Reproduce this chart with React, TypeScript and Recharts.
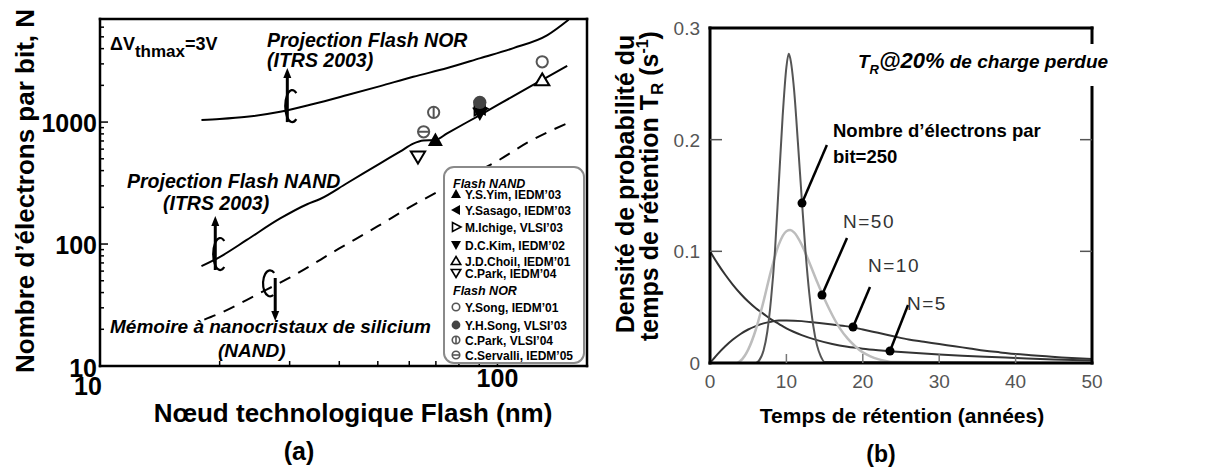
import React from 'react';
import {
  ComposedChart,
  LineChart,
  Line,
  Scatter,
  XAxis,
  YAxis,
  ReferenceLine,
  ReferenceDot,
  Legend,
} from 'recharts';

const FONT = '"Liberation Sans", Arial, Helvetica, sans-serif';

// ---------------- Panel (a) : electrons per bit vs Flash node ----------------
const norNodes = [18.0, 20.0, 23.4, 28.4, 34.4, 41.9, 50.7, 61.4, 74.8, 90.6, 109.7, 133.6, 151];
const norElectrons = [1040, 1060, 1105, 1214, 1405, 1665, 1972, 2351, 2772, 3346, 4043, 5164, 6900];

const nandNodes = [18, 20.1, 23.4, 28.4, 33.2, 35.8, 41.8, 50.7, 57, 61.4, 65.1, 69.8, 74.7, 90.6, 109.9, 133.4, 149.8];
const nandElectrons = [66, 79, 108, 162, 212, 234, 315, 459, 575, 665, 705, 712, 808, 1148, 1640, 2338, 2894];

const ncNodes = [18.3, 20, 25, 30, 40, 50, 60, 80, 100, 120, 150];
const ncElectrons = [24, 27, 39, 53, 92, 140, 200, 330, 480, 690, 980];

const pointLabels = [
  'Y.S.Yim, IEDM\u201903',
  'Y.Sasago, IEDM\u201903',
  'M.Ichige, VLSI\u201903',
  'D.C.Kim, IEDM\u201902',
  'J.D.Choil, IEDM\u201901',
  'C.Park, IEDM\u201904',
  'Y.Song, IEDM\u201901',
  'Y.H.Song, VLSI\u201903',
  'C.Park, VLSI\u201904',
  'C.Servalli, IEDM\u201905',
];
const pointSymbols = ['triUp', 'triLeft', 'triRightOpen', 'triDown', 'triUpOpen', 'triDownOpen', 'circleOpen', 'circleFilled', 'circleV', 'circleH'];
const pointNodes = [69.8, 90.3, 90.3, 90.3, 129.6, 63.1, 129.6, 90.3, 69.1, 65.2];
const pointElectrons = [712, 1290, 1290, 1178, 2208, 520, 3120, 1451, 1201, 833];

const xTicksA = [10, 20, 30, 40, 50, 60, 70, 80, 90, 100];
const yTicksA = [10, 20, 30, 40, 50, 60, 70, 80, 90, 100, 200, 300, 400, 500, 600, 700, 800, 900, 1000, 2000, 3000, 4000, 5000, 6000];
const xMajorA = [10, 100];
const yMajorA = [10, 100, 1000];

// ---------------- Panel (b) : retention time density ----------------
const n250Years = [0, 6, 6.5, 7, 7.5, 8, 8.5, 9, 9.5, 10, 10.3, 10.5, 11, 11.5, 12, 12.5, 13, 13.5, 14, 14.5, 15, 50];
const n250Density = [0, 0, 0.003, 0.011, 0.028, 0.058, 0.1, 0.16, 0.22, 0.265, 0.277, 0.273, 0.245, 0.198, 0.148, 0.1, 0.062, 0.034, 0.016, 0.006, 0.001, 0];

const n50Years = [0, 3.5, 4, 5, 6, 7, 8, 9, 10, 10.5, 11, 12, 13, 14, 15, 16, 17, 18, 19, 20, 21, 22, 23, 24, 50];
const n50Density = [0, 0, 0.002, 0.012, 0.03, 0.055, 0.083, 0.106, 0.118, 0.119, 0.117, 0.106, 0.09, 0.073, 0.057, 0.043, 0.031, 0.022, 0.015, 0.0095, 0.006, 0.0035, 0.0018, 0.0008, 0];

const n10Years = [0, 1, 2, 3, 4, 5, 6, 7, 8, 9, 10, 12, 14, 16, 18, 20, 22, 24, 26, 28, 30, 32, 34, 36, 38, 40, 42, 44, 46, 48, 50];
const n10Density = [0, 0.008, 0.015, 0.021, 0.026, 0.03, 0.033, 0.0355, 0.037, 0.038, 0.038, 0.0375, 0.036, 0.0345, 0.0328, 0.03, 0.027, 0.024, 0.021, 0.019, 0.017, 0.015, 0.013, 0.011, 0.0095, 0.008, 0.007, 0.006, 0.005, 0.0042, 0.0035];

const n5Years = [0, 1, 2, 3, 4, 5, 6, 7, 8, 9, 10, 12, 14, 16, 18, 20, 22, 24, 26, 28, 30, 33, 36, 40, 45, 50];
const n5Density = [0.1, 0.089, 0.079, 0.07, 0.062, 0.055, 0.049, 0.044, 0.039, 0.035, 0.031, 0.025, 0.0205, 0.017, 0.0145, 0.0128, 0.0115, 0.0104, 0.0094, 0.0085, 0.0077, 0.0066, 0.0056, 0.0045, 0.0032, 0.0022];

const xTicksB = [0, 10, 20, 30, 40, 50];
const yTicksB = [0, 0.1, 0.2, 0.3];

// pointer annotations (start of pointer line, dot on curve)
const pointerFromX = [15.3, 17.93, 20.94, 25.92];
const pointerFromY = [0.1952, 0.1119, 0.068, 0.0519];
const pointerToX = [12.04, 14.66, 18.72, 23.56];
const pointerToY = [0.1432, 0.0609, 0.0322, 0.0107];

const zip = (xs: number[], ys: number[]) => xs.map((x, i) => ({ x, y: ys[i] }));

const norData = zip(norNodes, norElectrons);
const nandData = zip(nandNodes, nandElectrons);
const ncData = zip(ncNodes, ncElectrons);
const n250Data = zip(n250Years, n250Density);
const n50Data = zip(n50Years, n50Density);
const n10Data = zip(n10Years, n10Density);
const n5Data = zip(n5Years, n5Density);

// ---------------- symbols ----------------
const Sym = ({ kind, cx, cy, s, sw }: any) => {
  const h = s;
  const tri = (pts: number[][]) => pts.map((p) => `${cx + p[0]},${cy + p[1]}`).join(' ');
  switch (kind) {
    case 'triUp':
      return <polygon points={tri([[0, -h], [h, h * 0.8], [-h, h * 0.8]])} fill="#000" />;
    case 'triDown':
      return <polygon points={tri([[0, h], [h, -h * 0.8], [-h, -h * 0.8]])} fill="#000" />;
    case 'triLeft':
      return <polygon points={tri([[-h, 0], [h * 0.8, -h], [h * 0.8, h]])} fill="#000" />;
    case 'triRightOpen':
      return <polygon points={tri([[h, 0], [-h * 0.7, -h * 0.9], [-h * 0.7, h * 0.9]])} fill="#fff" stroke="#000" strokeWidth={sw} />;
    case 'triUpOpen':
      return <polygon points={tri([[0, -h * 0.9], [h * 0.95, h * 0.7], [-h * 0.95, h * 0.7]])} fill="#fff" stroke="#000" strokeWidth={sw} />;
    case 'triDownOpen':
      return <polygon points={tri([[0, h * 0.9], [h * 0.95, -h * 0.7], [-h * 0.95, -h * 0.7]])} fill="#fff" stroke="#000" strokeWidth={sw} />;
    case 'circleOpen':
      return <circle cx={cx} cy={cy} r={h * 0.75} fill="#fff" stroke="#555" strokeWidth={sw} />;
    case 'circleFilled':
      return <circle cx={cx} cy={cy} r={h * 0.88} fill="#444" />;
    case 'circleV':
      return (
        <g>
          <circle cx={cx} cy={cy} r={h * 0.75} fill="#fff" stroke="#555" strokeWidth={sw} />
          <line x1={cx} x2={cx} y1={cy - h * 0.75} y2={cy + h * 0.75} stroke="#555" strokeWidth={sw} />
        </g>
      );
    case 'circleH':
      return (
        <g>
          <circle cx={cx} cy={cy} r={h * 0.75} fill="#fff" stroke="#555" strokeWidth={sw} />
          <line x1={cx - h * 0.75} x2={cx + h * 0.75} y1={cy} y2={cy} stroke="#555" strokeWidth={sw} />
        </g>
      );
    default:
      return null;
  }
};

// curled arrow decoration
const Curl = ({ cx, cy, kind }: any) => {
  if (kind === 'up') {
    return (
      <g fill="none" stroke="#000" strokeWidth={2.2}>
        <line x1={cx} x2={cx} y1={cy + 12} y2={cy - 34} strokeWidth={3} />
        <polygon points={`${cx},${cy - 42} ${cx - 4},${cy - 32} ${cx + 4},${cy - 32}`} fill="#000" stroke="none" />
        <path d={`M ${cx + 9} ${cy - 17} A 7 16 0 1 0 ${cx + 9} ${cy + 9}`} />
      </g>
    );
  }
  return (
    <g fill="none" stroke="#000" strokeWidth={2.2}>
      <line x1={cx + 7} x2={cx + 7} y1={cy - 8} y2={cy + 26} strokeWidth={3} />
      <polygon points={`${cx + 7},${cy + 35} ${cx + 3},${cy + 25} ${cx + 11},${cy + 25}`} fill="#000" stroke="none" />
      <path d={`M ${cx + 6} ${cy - 13} A 7 13 0 1 0 ${cx + 5} ${cy + 9}`} />
    </g>
  );
};

// ---------------- ticks ----------------
const AXTick = ({ x, y, payload }: any) => {
  const v = payload.value;
  const major = xMajorA.includes(v);
  return (
    <g>
      {v !== 10 && <line x1={x} x2={x} y1={y} y2={y - (major ? 8 : 5)} stroke="#000" strokeWidth={1.5} />}
      {major && (
        <text x={v === 10 ? x - 12 : x} y={v === 10 ? y + 29 : y + 21} textAnchor="middle" fontFamily={FONT} fontWeight="bold" fontSize={25} fill="#000">
          {v}
        </text>
      )}
    </g>
  );
};

const AYTick = ({ x, y, payload }: any) => {
  const v = payload.value;
  const major = yMajorA.includes(v);
  return (
    <g>
      {v !== 10 && <line x1={x} x2={x + (major ? 8 : 4)} y1={y} y2={y} stroke="#000" strokeWidth={1.5} />}
      {major && (
        <text x={x - 3} y={v === 10 ? y + 11 : y + 10} textAnchor="end" fontFamily={FONT} fontWeight="bold" fontSize={25} fill="#000">
          {v}
        </text>
      )}
    </g>
  );
};

const BXTick = ({ x, y, payload }: any) => {
  const v = payload.value;
  const inner = v > 0 && v < 50;
  return (
    <g>
      {inner && <line x1={x} x2={x} y1={y} y2={y - 9} stroke="#777" strokeWidth={1.5} />}
      <text x={x} y={y + 25} textAnchor="middle" fontFamily={FONT} fontSize={19} fill="#555">
        {v}
      </text>
    </g>
  );
};

const BTopTick = ({ x, y, payload }: any) => {
  const v = payload.value;
  if (!(v > 0 && v < 50)) return <g />;
  return <line x1={x} x2={x} y1={y} y2={y + 9} stroke="#777" strokeWidth={1.5} />;
};

const BYTick = ({ x, y, payload }: any) => {
  const v = payload.value;
  const inner = v > 0 && v < 0.3;
  return (
    <g>
      {inner && <line x1={x} x2={x + 12} y1={y} y2={y} stroke="#555" strokeWidth={1.5} />}
      <text x={x - 10} y={y + 7} textAnchor="end" fontFamily={FONT} fontSize={19} fill="#555">
        {v === 0 ? '0' : v.toFixed(1)}
      </text>
    </g>
  );
};

const BRightTick = ({ x, y, payload }: any) => {
  const v = payload.value;
  if (!(v > 0 && v < 0.3)) return <g />;
  return <line x1={x} x2={x - 12} y1={y} y2={y} stroke="#555" strokeWidth={1.5} />;
};

// ---------------- legend of panel (a) ----------------
const legendRows = [
  { header: 'Flash NAND', y: 20 },
  { i: 0, y: 31 },
  { i: 1, y: 47 },
  { i: 2, y: 64 },
  { i: 3, y: 82 },
  { i: 4, y: 98 },
  { i: 5, y: 110 },
  { header: 'Flash NOR', y: 127 },
  { i: 6, y: 144 },
  { i: 7, y: 162 },
  { i: 8, y: 177 },
  { i: 9, y: 192 },
];

const LegendBox = () => (
  <div
    style={{
      width: 142,
      height: 198,
      boxSizing: 'border-box',
      border: '2px solid #8a8a8a',
      borderRadius: 11,
      background: '#fff',
    }}
  >
    <svg width={138} height={194} style={{ display: 'block' }}>
      {legendRows.map((r: any, k) =>
        r.header ? (
          <text key={k} x={8} y={r.y} fontFamily={FONT} fontSize={12.5} fontWeight="bold" fontStyle="italic" fill="#000">
            {r.header}
          </text>
        ) : (
          <g key={k}>
            <Sym kind={pointSymbols[r.i]} cx={11} cy={r.y - 5} s={5} sw={1.6} />
            <text x={20} y={r.y} fontFamily={FONT} fontSize={12} fontWeight="bold" fill="#000">
              {pointLabels[r.i]}
            </text>
          </g>
        ),
      )}
    </svg>
  </div>
);

const axisLineStyle = { stroke: '#000', strokeWidth: 2.5, strokeLinecap: 'square' as const };
const axisLineStyleB = { stroke: '#000', strokeWidth: 3, strokeLinecap: 'square' as const };

export default function App() {
  return (
    <div style={{ position: 'relative', width: 1226, height: 470, background: '#fff', overflow: 'hidden' }}>
      <style>{'body{margin:0;background:#fff}'}</style>

      {/* ---------- Panel (a) ---------- */}
      <div style={{ position: 'absolute', left: 0, top: 0 }}>
        <ComposedChart width={600} height={470} margin={{ top: 18, right: 12, bottom: 64, left: 40 }}>
          <XAxis
            dataKey="x"
            type="number"
            scale="log"
            domain={[10, 168]}
            allowDataOverflow
            ticks={xTicksA}
            interval={0}
            tickSize={0}
            tickMargin={0}
            tickLine={false}
            axisLine={axisLineStyle}
            tick={<AXTick />}
            height={40}
          />
          <XAxis xAxisId="top" orientation="top" type="number" scale="log" domain={[10, 168]} allowDataOverflow tick={false} tickLine={false} axisLine={axisLineStyle} height={1} />
          <YAxis
            dataKey="y"
            type="number"
            scale="log"
            domain={[10, 7000]}
            allowDataOverflow
            ticks={yTicksA}
            interval={0}
            tickSize={0}
            tickMargin={0}
            tickLine={false}
            axisLine={axisLineStyle}
            tick={<AYTick />}
            width={60}
          />
          <YAxis yAxisId="right" orientation="right" type="number" scale="log" domain={[10, 7000]} allowDataOverflow tick={false} tickLine={false} axisLine={axisLineStyle} width={1} />

          <Line data={norData} dataKey="y" type="monotone" stroke="#000" strokeWidth={2} dot={false} isAnimationActive={false} legendType="none" />
          <Line data={nandData} dataKey="y" type="monotone" stroke="#000" strokeWidth={2} dot={false} isAnimationActive={false} legendType="none" />
          <Line data={ncData} dataKey="y" type="monotone" stroke="#000" strokeWidth={2} strokeDasharray="12 9" dot={false} isAnimationActive={false} legendType="none" />

          {pointLabels.map((name, i) => (
            <Scatter
              key={name}
              name={name}
              data={[{ x: pointNodes[i], y: pointElectrons[i] }]}
              dataKey="y"
              isAnimationActive={false}
              shape={(p: any) => <Sym kind={pointSymbols[i]} cx={p.cx} cy={p.cy} s={7.5} sw={2} />}
            />
          ))}

          <ReferenceDot x={29.6} y={1254} r={1} shape={(p: any) => <Curl cx={p.cx} cy={p.cy} kind="up" />} />
          <ReferenceDot x={19.5} y={76.8} r={1} shape={(p: any) => <Curl cx={p.cx} cy={p.cy} kind="up" />} />
          <ReferenceDot x={26.5} y={45.3} r={1} shape={(p: any) => <Curl cx={p.cx} cy={p.cy} kind="down" />} />

          <Legend
            layout="vertical"
            align="center"
            verticalAlign="middle"
            wrapperStyle={{ position: 'absolute', left: 443, top: 166, width: 142, height: 198 }}
            content={() => <LegendBox />}
          />
        </ComposedChart>
      </div>

      {/* ---------- Panel (b) ---------- */}
      <div style={{ position: 'absolute', left: 600, top: 0 }}>
        <LineChart width={626} height={470} margin={{ top: 18, right: 124, bottom: 77, left: 60 }}>
          <XAxis
            dataKey="x"
            type="number"
            domain={[0, 50]}
            allowDataOverflow
            ticks={xTicksB}
            interval={0}
            tickSize={0}
            tickMargin={0}
            tickLine={false}
            axisLine={axisLineStyleB}
            tick={<BXTick />}
            height={30}
          />
          <XAxis
            xAxisId="top"
            orientation="top"
            type="number"
            domain={[0, 50]}
            allowDataOverflow
            ticks={xTicksB}
            interval={0}
            tickSize={0}
            tickMargin={0}
            tickLine={false}
            axisLine={axisLineStyleB}
            tick={<BTopTick />}
            height={10}
          />
          <YAxis
            type="number"
            domain={[0, 0.3]}
            allowDataOverflow
            ticks={yTicksB}
            interval={0}
            tickSize={0}
            tickMargin={0}
            tickLine={false}
            axisLine={axisLineStyleB}
            tick={<BYTick />}
            width={50}
          />
          <YAxis
            yAxisId="right"
            orientation="right"
            type="number"
            domain={[0, 0.3]}
            allowDataOverflow
            ticks={yTicksB}
            interval={0}
            tickSize={0}
            tickMargin={0}
            tickLine={false}
            axisLine={axisLineStyleB}
            tick={<BRightTick />}
            width={10}
          />

          <Line data={n5Data} dataKey="y" type="monotone" stroke="#333" strokeWidth={2} dot={false} isAnimationActive={false} />
          <Line data={n10Data} dataKey="y" type="monotone" stroke="#333" strokeWidth={2} dot={false} isAnimationActive={false} />
          <Line data={n50Data} dataKey="y" type="monotone" stroke="#bdbdbd" strokeWidth={2.5} dot={false} isAnimationActive={false} />
          <Line data={n250Data} dataKey="y" type="monotone" stroke="#555" strokeWidth={2} dot={false} isAnimationActive={false} />

          {pointerFromX.map((fx, i) => (
            <ReferenceLine
              key={'pl' + i}
              segment={[
                { x: fx, y: pointerFromY[i] },
                { x: pointerToX[i], y: pointerToY[i] },
              ]}
              stroke="#000"
              strokeWidth={2.5}
            />
          ))}
          {pointerToX.map((tx, i) => (
            <ReferenceDot key={'pd' + i} x={tx} y={pointerToY[i]} r={4.5} fill="#000" stroke="none" />
          ))}
        </LineChart>
      </div>

      {/* ---------- annotation texts ---------- */}
      <svg width={1226} height={470} style={{ position: 'absolute', left: 0, top: 0, pointerEvents: 'none' }} fontFamily={FONT}>
        {/* panel (a) */}
        <text x={110} y={50} fontSize={18} fontWeight="bold" fill="#000">
          <tspan>{'\u0394V'}</tspan>
          <tspan dy={7} fontSize={17}>thmax</tspan>
          <tspan dy={-7}>=3V</tspan>
        </text>
        <text x={267} y={47} fontSize={19.5} fontWeight="bold" fontStyle="italic" fill="#000">Projection Flash NOR</text>
        <text x={267} y={67} fontSize={19.5} fontWeight="bold" fontStyle="italic" fill="#000">(ITRS 2003)</text>
        <text x={127} y={188} fontSize={19.5} fontWeight="bold" fontStyle="italic" fill="#000">Projection Flash NAND</text>
        <text x={163} y={210} fontSize={19.5} fontWeight="bold" fontStyle="italic" fill="#000">(ITRS 2003)</text>
        <text x={110} y={333} fontSize={19} fontWeight="bold" fontStyle="italic" fill="#000">{'M\u00e9moire \u00e0 nanocristaux de silicium'}</text>
        <text x={218} y={357} fontSize={19} fontWeight="bold" fontStyle="italic" fill="#000">(NAND)</text>
        <text transform="translate(34,191) rotate(-90)" textAnchor="middle" fontSize={26} fontWeight="bold" fill="#000">
          {'Nombre d\u2019\u00e9lectrons par bit, N'}
        </text>
        <text x={353} y={422} textAnchor="middle" fontSize={26} fontWeight="bold" fill="#000">
          {'N\u0153ud technologique Flash (nm)'}
        </text>
        <text x={299} y={460} textAnchor="middle" fontSize={25} fontWeight="bold" fill="#000">(a)</text>

        {/* panel (b) */}
        <rect x={852} y={44} width={266} height={42} fill="#fff" />
        <text x={858} y={68} fontWeight="bold" fontStyle="italic" fill="#000" fontSize={19}>
          <tspan>T</tspan>
          <tspan dy={6} fontSize={13}>R</tspan>
          <tspan dy={-6} fontSize={22}>@20%</tspan>
          <tspan fontSize={19}> de charge perdue</tspan>
        </text>
        <text x={833} y={137} fontSize={18.5} fontWeight="bold" fill="#000">{'Nombre d\u2019\u00e9lectrons par'}</text>
        <text x={833} y={163} fontSize={18.5} fontWeight="bold" fill="#000">bit=250</text>
        <text x={843} y={228} fontSize={19} fill="#333" letterSpacing={1.5}>N=50</text>
        <text x={868} y={272} fontSize={19} fill="#333" letterSpacing={1.5}>N=10</text>
        <text x={907} y={310} fontSize={19} fill="#333" letterSpacing={1.5}>N=5</text>
        <text transform="translate(634,184) rotate(-90)" textAnchor="middle" fontSize={25} fontWeight="bold" fill="#000">
          {'Densit\u00e9 de probabilit\u00e9 du'}
        </text>
        <text transform="translate(658,186) rotate(-90)" textAnchor="middle" fontSize={25} fontWeight="bold" fill="#000">
          <tspan>{'temps de r\u00e9tention T'}</tspan>
          <tspan dy={5} fontSize={17}>R</tspan>
          <tspan dy={-5} fontSize={25}> (s</tspan>
          <tspan dy={-10} fontSize={16}>-1</tspan>
          <tspan dy={10} fontSize={25}>)</tspan>
        </text>
        <text x={902} y={423} textAnchor="middle" fontSize={21} fontWeight="bold" fill="#000">
          {'Temps de r\u00e9tention (ann\u00e9es)'}
        </text>
        <text x={881} y={462} textAnchor="middle" fontSize={23} fontWeight="bold" fill="#000">(b)</text>
      </svg>
    </div>
  );
}
